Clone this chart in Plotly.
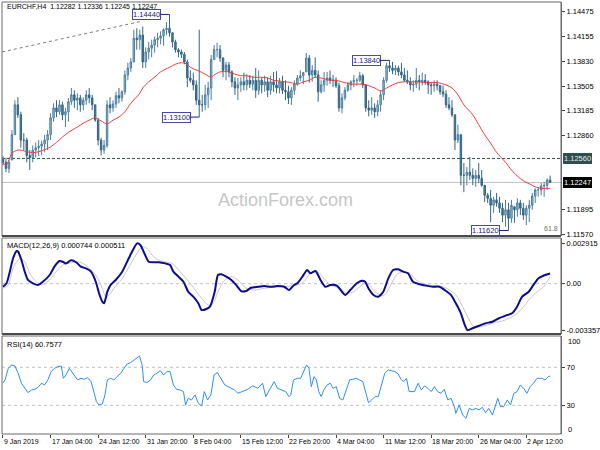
import plotly.graph_objects as go

# ---------------- data (8-hour bars, EURCHF) ----------------
highs = [1.1259, 1.1257, 1.1254, 1.1293, 1.1332, 1.1336, 1.1317, 1.1289, 1.1283, 1.1267,
         1.1273, 1.1277, 1.1280, 1.1279, 1.1287, 1.1293, 1.1315, 1.1328, 1.1332, 1.1332,
         1.1330, 1.1322, 1.1335, 1.1348, 1.1345, 1.1341, 1.1339, 1.1336, 1.1345, 1.1348,
         1.1339, 1.1326, 1.1309, 1.1283, 1.1280, 1.1332, 1.1336, 1.1332, 1.1343, 1.1348,
         1.1345, 1.1371, 1.1381, 1.1387, 1.1424, 1.1426, 1.1424, 1.1428, 1.1401, 1.1408,
         1.1411, 1.1415, 1.1420, 1.1422, 1.1426, 1.1434, 1.14440, 1.1420, 1.1411, 1.1400,
         1.1398, 1.1395, 1.1385, 1.1371, 1.1368, 1.1358, 1.1424, 1.1339, 1.1352, 1.1356,
         1.1391, 1.1404, 1.1407, 1.1404, 1.1388, 1.1382, 1.1382, 1.1371, 1.1362, 1.1361,
         1.1362, 1.1368, 1.1366, 1.1365, 1.1364, 1.1374, 1.1371, 1.1362, 1.1364, 1.1362,
         1.1364, 1.1369, 1.1370, 1.1361, 1.1364, 1.1358, 1.1351, 1.1349, 1.1358, 1.1365,
         1.1371, 1.1369, 1.1394, 1.1391, 1.1378, 1.1388, 1.1371, 1.1358, 1.1369, 1.1369,
         1.1371, 1.1365, 1.1362, 1.1355, 1.1341, 1.1349, 1.1356, 1.1358, 1.1365, 1.1361,
         1.1369, 1.1366, 1.1352, 1.1332, 1.1336, 1.1328, 1.1332, 1.1345, 1.1362, 1.1381,
         1.13840, 1.1382, 1.1378, 1.1377, 1.1381, 1.1374, 1.1371, 1.1362, 1.1358, 1.1374,
         1.1365, 1.1368, 1.1366, 1.1358, 1.1356, 1.1358, 1.1358, 1.1352, 1.1351, 1.1345,
         1.1336, 1.1332, 1.1313, 1.1300, 1.1287, 1.1250, 1.1245, 1.1258, 1.1243, 1.1241,
         1.1250, 1.1241, 1.1221, 1.1211, 1.1215, 1.1206, 1.1211, 1.1206, 1.1198, 1.1202,
         1.1198, 1.1202, 1.1193, 1.1204, 1.1202, 1.1198, 1.1195, 1.1202, 1.1211, 1.1217,
         1.1219, 1.1224, 1.1225, 1.1230, 1.12336]
lows = [1.1247, 1.1238, 1.1237, 1.1254, 1.1287, 1.1309, 1.1270, 1.1267, 1.1251, 1.1241,
        1.1251, 1.1257, 1.1259, 1.1260, 1.1264, 1.1267, 1.1280, 1.1304, 1.1310, 1.1313,
        1.1306, 1.1297, 1.1304, 1.1326, 1.1322, 1.1319, 1.1317, 1.1319, 1.1326, 1.1328,
        1.1319, 1.1304, 1.1273, 1.1260, 1.1262, 1.1270, 1.1315, 1.1317, 1.1322, 1.1328,
        1.1330, 1.1339, 1.1358, 1.1369, 1.1382, 1.1398, 1.1398, 1.1374, 1.1374, 1.1385,
        1.1388, 1.1394, 1.1401, 1.1405, 1.1403, 1.1417, 1.1415, 1.1401, 1.1394, 1.1388,
        1.1387, 1.1379, 1.1349, 1.1355, 1.1345, 1.1326, 1.13100, 1.1317, 1.1319, 1.1322,
        1.1332, 1.1385, 1.1388, 1.1382, 1.1362, 1.1358, 1.1362, 1.1349, 1.1339, 1.1332,
        1.1343, 1.1345, 1.1345, 1.1348, 1.1345, 1.1335, 1.1339, 1.1341, 1.1343, 1.1336,
        1.1339, 1.1343, 1.1341, 1.1341, 1.1340, 1.1332, 1.1327, 1.1326, 1.1339, 1.1351,
        1.1357, 1.1353, 1.1369, 1.1355, 1.1356, 1.1361, 1.1330, 1.1341, 1.1343, 1.1351,
        1.1353, 1.1349, 1.1348, 1.1317, 1.1315, 1.1332, 1.1343, 1.1345, 1.1349, 1.1351,
        1.1356, 1.1348, 1.1317, 1.1311, 1.1313, 1.1309, 1.1311, 1.1317, 1.1332, 1.1355,
        1.1369, 1.1366, 1.1365, 1.1364, 1.1361, 1.1356, 1.1353, 1.1345, 1.1343, 1.1348,
        1.1345, 1.1351, 1.1352, 1.1340, 1.1339, 1.1343, 1.1345, 1.1339, 1.1336, 1.1322,
        1.1319, 1.1310, 1.1267, 1.1276, 1.1221, 1.1212, 1.1221, 1.1228, 1.1221, 1.1219,
        1.1224, 1.1219, 1.1199, 1.1198, 1.1173, 1.1185, 1.1193, 1.1185, 1.1173, 1.1167,
        1.11620, 1.1172, 1.1172, 1.1180, 1.1182, 1.1176, 1.1169, 1.1173, 1.1189, 1.1198,
        1.1206, 1.1208, 1.1206, 1.1215, 1.12245]
closes = [1.1251, 1.1243, 1.1251, 1.1287, 1.1326, 1.1313, 1.1280, 1.1280, 1.1260, 1.1257,
          1.1267, 1.1270, 1.1272, 1.1275, 1.1280, 1.1287, 1.1309, 1.1322, 1.1317, 1.1326,
          1.1313, 1.1317, 1.1330, 1.1339, 1.1332, 1.1335, 1.1326, 1.1332, 1.1339, 1.1335,
          1.1326, 1.1306, 1.1280, 1.1267, 1.1273, 1.1326, 1.1322, 1.1327, 1.1338, 1.1335,
          1.1343, 1.1365, 1.1374, 1.1382, 1.1413, 1.1411, 1.1417, 1.1382, 1.1395, 1.1400,
          1.1404, 1.1411, 1.1413, 1.1416, 1.1424, 1.1426, 1.1420, 1.1408, 1.1398, 1.1395,
          1.1392, 1.1382, 1.1361, 1.1358, 1.1352, 1.1332, 1.1326, 1.1326, 1.1339, 1.1348,
          1.1385, 1.1398, 1.1398, 1.1387, 1.1371, 1.1378, 1.1369, 1.1356, 1.1348, 1.1352,
          1.1356, 1.1352, 1.1358, 1.1353, 1.1358, 1.1345, 1.1358, 1.1352, 1.1356, 1.1345,
          1.1356, 1.1352, 1.1348, 1.1356, 1.1345, 1.1343, 1.1335, 1.1345, 1.1353, 1.1361,
          1.1364, 1.1368, 1.1387, 1.1365, 1.1371, 1.1365, 1.1343, 1.1352, 1.1358, 1.1361,
          1.1358, 1.1358, 1.1351, 1.1322, 1.1335, 1.1345, 1.1352, 1.1356, 1.1358, 1.1358,
          1.1364, 1.1352, 1.1322, 1.1319, 1.1322, 1.1317, 1.1326, 1.1339, 1.1358, 1.1377,
          1.1374, 1.1371, 1.1374, 1.1369, 1.1365, 1.1358, 1.1356, 1.1352, 1.1353, 1.1358,
          1.1356, 1.1358, 1.1356, 1.1352, 1.1351, 1.1353, 1.1351, 1.1343, 1.1340, 1.1326,
          1.1322, 1.1313, 1.1280, 1.1287, 1.1234, 1.1234, 1.1238, 1.1234, 1.1230, 1.1234,
          1.1230, 1.1221, 1.1208, 1.1204, 1.1195, 1.1202, 1.1198, 1.1191, 1.1182, 1.1189,
          1.1178, 1.1195, 1.1189, 1.1198, 1.1191, 1.1182, 1.1191, 1.1195, 1.1207, 1.1215,
          1.1215, 1.1220, 1.1221, 1.1228, 1.12247]
first_open = 1.1255

# 55-period moving average (bar index, price)
ma_t = [0, 1, 2, 3, 5, 7, 9, 11, 13, 16, 18, 20, 22, 25, 27, 29, 31, 33, 35, 37, 39, 41, 43, 46, 47,
        49, 51, 53, 56, 58, 60, 62, 63, 66, 68, 70, 71, 73, 76, 78, 80, 82, 84, 87, 89, 91, 93, 95,
        97, 99, 101, 103, 105, 108, 110, 112, 114, 117, 119, 121, 123, 125, 127, 129, 131, 133, 135,
        138, 140, 142, 144, 146, 149, 151, 153, 155, 158, 160, 162, 164, 166, 169, 171, 173, 175,
        178, 179, 181, 183, 184]
ma_v = [1.1250, 1.1247, 1.1254, 1.1263, 1.1267, 1.1266, 1.1264, 1.1264, 1.1266, 1.1271, 1.1277,
        1.1284, 1.1290, 1.1297, 1.1302, 1.1306, 1.1309, 1.1305, 1.1301, 1.1306, 1.1310, 1.1317,
        1.1328, 1.1341, 1.1348, 1.1356, 1.1362, 1.1369, 1.1375, 1.1379, 1.1381, 1.1379, 1.1375,
        1.1370, 1.1366, 1.1362, 1.1365, 1.1369, 1.1369, 1.1366, 1.1364, 1.1364, 1.1362, 1.1362,
        1.1361, 1.1358, 1.1357, 1.1356, 1.1355, 1.1353, 1.1356, 1.1358, 1.1362, 1.1360, 1.1358,
        1.1358, 1.1356, 1.1353, 1.1353, 1.1353, 1.1351, 1.1348, 1.1344, 1.1348, 1.1352, 1.1355,
        1.1356, 1.1356, 1.1356, 1.1355, 1.1355, 1.1355, 1.1352, 1.1348, 1.1339, 1.1326, 1.1313,
        1.1300, 1.1287, 1.1276, 1.1264, 1.1251, 1.1241, 1.1233, 1.1227, 1.1221, 1.1219, 1.1217,
        1.1217, 1.1217]

trend_t = [-0.3, 46.5]
trend_v = [1.1395, 1.1435]

swing_t = [56, 66, 130, 170]
swing_v = [1.14440, 1.13100, 1.13840, 1.11620]

level_dash = 1.12560
last_price = 1.12247

macd_t = [0, 1.2, 2.3, 3.4, 4.6, 5.1, 6.2, 7.3, 8.4, 10.1, 11.8, 13.4, 15.7, 17.3, 19, 20.1, 21.2,
          22.9, 24.6, 26.2, 27.9, 29.6, 31.2, 32.3, 33.4, 34, 35.1, 36.2, 37.9, 40.1, 42.3, 44,
          45.1, 46.2, 47.3, 49, 50.7, 52.3, 54.6, 56.2, 57.3, 59, 60.7, 62.3, 64, 65.7, 66.8, 68.4,
          69.6, 71.2, 72.3, 73.4, 75.1, 76.8, 78.4, 80.1, 81.8, 83.4, 85.7, 87.9, 90.1, 92.3, 94.6,
          96.2, 97.9, 99, 100.7, 102.3, 103.4, 105.1, 106.8, 108.4, 110.1, 112.3, 114, 115.1,
          116.8, 119, 120.7, 121.8, 122.9, 124.6, 126.2, 127.9, 129.6, 131.2, 132.9, 134.6, 136.2,
          137.9, 140.1, 142.3, 144.6, 146.8, 149, 150.7, 152.3, 154, 155.1, 156.2, 157.9, 160.1,
          162.3, 164.6, 166.8, 169, 171.2, 172.9, 174.6, 176.8, 178.4, 180.1, 182.3, 184]
macd_v = [-0.00022, 0.00003, 0.00087, 0.00184, 0.00236, 0.00231, 0.00171, 0.00087, 0.00027, 0.00003,
          -0.00009, 0.00014, 0.00063, 0.00123, 0.00164, 0.00159, 0.00147, 0.00169, 0.00155, 0.00123,
          0.00111, 0.00087, 0.00014, -0.00069, -0.00130, -0.00142, -0.00058, -0.00009, 0.00027, 0.00087,
          0.00184, 0.00256, 0.002915, 0.00280, 0.00231, 0.00159, 0.00155, 0.00155, 0.00147, 0.00135,
          0.00087, 0.00051, 0.00014, -0.00058, -0.00094, -0.00142, -0.00190, -0.00183, -0.00166, -0.00058,
          0.00063, 0.00068, 0.00051, 0.00027, -0.00009, -0.00053, -0.00053, -0.00029, -0.00022, -0.00017,
          -0.00022, -0.00017, -0.00022, -0.00046, -0.00009, 0.00003, 0.00051, 0.00099, 0.00075, 0.00092,
          0.00027, -0.00022, -0.00009, -0.00014, -0.00058, -0.00082, -0.00046, 0.00003, 0.00022, 0.00014,
          -0.00033, -0.00082, -0.00094, -0.00058, 0.00039, 0.00099, 0.00104, 0.00087, 0.00075, 0.00014,
          -0.00004, -0.00014, -0.00022, -0.00022, -0.00053, -0.00082, -0.00142, -0.00214, -0.00286, -0.003357,
          -0.00322, -0.00304, -0.00286, -0.00275, -0.00250, -0.00231, -0.00214, -0.00166, -0.00094, -0.00058,
          -0.00009, 0.00039, 0.00063, 0.000744]
sig_t = [0, 1.8, 3.4, 5.7, 7.3, 9, 11.2, 13.4, 15.7, 17.9, 20.1, 22.3, 24.6, 26.8, 29, 31.2, 33.4,
         34.6, 35.7, 37.3, 40.1, 43.4, 46.8, 48.4, 50.1, 52.3, 54.6, 56.8, 60.1, 63.4, 66.8, 69, 70.7,
         72.3, 74.6, 76.8, 79, 81.8, 84.6, 87.9, 93.4, 99, 101.2, 103.4, 105.7, 107.9, 110.1, 113.4,
         115.7, 117.9, 120.7, 122.3, 124.6, 126.8, 128.4, 130.1, 132.3, 134.6, 136.8, 139, 141.2,
         143.4, 145.7, 147.9, 150.1, 152.3, 154.6, 156.8, 158.4, 160.7, 163.4, 165.7, 167.9, 170.1,
         172.3, 174.6, 176.8, 179, 181.8, 184]
sig_v = [-0.00033, -0.00010, 0.00111, 0.00183, 0.00159, 0.00075, 0.00014, -0.00005, 0.00027, 0.00087,
         0.00135, 0.00147, 0.00159, 0.00147, 0.00111, 0.00063, -0.00033, -0.00094, -0.00082, -0.00033,
         0.00039, 0.00159, 0.00268, 0.00256, 0.00207, 0.00171, 0.00159, 0.00147, 0.00075, -0.00010,
         -0.00106, -0.00154, -0.00142, -0.00058, 0.00027, 0.00051, 0.00027, -0.00033, -0.00046, -0.00033,
         -0.00022, -0.00010, 0.00014, 0.00075, 0.00087, 0.00039, -0.00010, -0.00033, -0.00070, -0.00058,
         -0.00010, 0.00003, -0.00046, -0.00082, -0.00082, -0.00022, 0.00063, 0.00087, 0.00075, 0.00027,
         0.00003, -0.00010, -0.00014, -0.00022, -0.00046, -0.00082, -0.00166, -0.00262, -0.00311, -0.00311,
         -0.00294, -0.00279, -0.00270, -0.00250, -0.00226, -0.00178, -0.00118, -0.00070, -0.00022, 0.000511]

rsi_t = [0, 0.7, 1.8, 2.9, 4, 5.1, 6.2, 7.3, 8.4, 9.6, 10.7, 11.8, 12.9, 14, 15.1, 16.2, 17.3, 18.4,
         19.6, 20.3, 21.2, 22.3, 23.4, 25.1, 26.2, 27.3, 28.4, 29.6, 30.7, 31.4, 32.3, 33.4, 34.3, 35.1,
         36.2, 37.3, 38.4, 39.6, 40.7, 41.8, 42.9, 44, 45.1, 45.9, 46.8, 47.3, 48.4, 49.6, 50.7, 51.8,
         52.9, 54, 55.1, 56.2, 57.3, 58.4, 59.6, 60.7, 61.4, 62.3, 63.4, 64.6, 65.7, 66.8, 67.7, 68.8,
         69.9, 71, 72.1, 73.2, 74.6, 76.2, 77.9, 79, 80.7, 82.3, 84, 85.7, 87.3, 88.4, 89.6, 91.2, 92.3,
         94, 95.1, 96.2, 96.8, 97.7, 99, 100.1, 101.2, 102.1, 102.9, 103.7, 104.6, 105.4, 106.2, 107,
         107.9, 109, 110.1, 111, 112.1, 113.2, 114.3, 115.4, 116.6, 117.7, 118.8, 119.9, 121, 121.8,
         122.9, 124, 125.1, 126.2, 127.3, 128.4, 129.6, 130.7, 131.8, 132.9, 134, 134.8, 135.7, 136.6,
         137.3, 138.4, 139.6, 140.7, 141.8, 142.9, 144, 145.1, 146.2, 147.3, 148.4, 149.6, 150.7, 151.8,
         152.3, 153.4, 154.6, 155.7, 156.8, 157.9, 159, 160.1, 161.2, 162.3, 163.4, 164.6, 165.7, 166.4,
         167.3, 168.4, 169.6, 170.7, 171.8, 172.9, 174, 175.1, 176.2, 177.3, 178.4, 179.6, 181.2, 182.3,
         183.4, 184]
rsi_v = [53.2, 56.7, 69, 72.5, 71.4, 63.7, 53.2, 47.9, 43.3, 46.1, 46.8, 48.9, 53.2, 51.4, 56.7, 65.4,
         68.9, 70.7, 71.4, 58.4, 61.9, 68.9, 63.7, 56.7, 58.4, 57.4, 59.1, 54.9, 42.6, 33.9, 30.4, 31.4,
         40.9, 56.7, 58.4, 56.7, 60.2, 63.7, 68.9, 73.5, 74.9, 77.7, 79.5, 81.9, 72.5, 54.9, 53.9, 56.7,
         61.9, 63.7, 66.5, 61.9, 65.4, 65.4, 51.4, 46.8, 46.1, 44.4, 30.4, 37.4, 35.6, 40.9, 32.1, 29.3,
         44.4, 35.6, 40.9, 61.9, 64.4, 58.4, 51.4, 48.9, 46.1, 42.6, 44.4, 46.8, 50.4, 47.9, 53.2, 39.1,
         46.1, 54.9, 47.9, 46.1, 44.4, 39.1, 40.9, 56.7, 58.4, 58.4, 67.2, 72.5, 68.9, 49.6, 60.2, 56.7,
         44.4, 39.1, 46.1, 51.4, 53.2, 47.9, 49.6, 37.4, 35.6, 46.1, 56.7, 57.4, 58.4, 56.7, 54.9, 46.1,
         32.8, 35.6, 39.1, 39.1, 51.4, 63.7, 67.2, 66.5, 65.4, 63.0, 56.7, 54.9, 58.4, 44.4, 44.4, 44.4,
         53.2, 46.1, 50.4, 47.9, 44.4, 49.6, 44.4, 42.6, 46.8, 35.6, 37.4, 28.6, 21.5, 30.4, 19.8, 16.3,
         26.8, 25.1, 26.8, 25.1, 27.9, 22.2, 26.8, 19.8, 30.4, 37.4, 28.6, 28.6, 35.6, 30.4, 42.6, 44.4,
         51.4, 47.9, 42.6, 49.6, 53.2, 58.4, 58.4, 56.7, 60.2, 60.7577]

date_idx = [0, 16, 32, 48, 64, 80, 96, 112, 128, 144, 160, 176]
date_labels = ["9 Jan 2019", "17 Jan 04:00", "24 Jan 12:00", "31 Jan 20:00", "8 Feb 04:00",
               "15 Feb 12:00", "22 Feb 20:00", "4 Mar 04:00", "11 Mar 12:00", "18 Mar 20:00",
               "26 Mar 04:00", "2 Apr 12:00"]
price_ticks = [1.14475, 1.14155, 1.13830, 1.13505, 1.13185, 1.12860, 1.11895, 1.11570]
macd_ticks = [0.002915, 0.0, -0.003357]
macd_ticktext = ["0.002915", "0.00", "-0.003357"]
rsi_ticks = [70, 30]

# ---------------- figure ----------------
FONT = "Liberation Sans, Arial, sans-serif"
bars = list(range(len(closes)))
opens = []
prev = first_open
for h, l, c in zip(highs, lows, closes):
    opens.append(min(max(prev, l), h))
    prev = c

fig = go.Figure()
fig.add_trace(go.Scatter(x=trend_t, y=trend_v, mode="lines", xaxis="x", yaxis="y",
                         line=dict(color="#7a7a7a", width=1, dash="dot"), hoverinfo="skip"))
fig.add_trace(go.Candlestick(x=bars, open=opens, high=highs, low=lows, close=closes,
                             xaxis="x", yaxis="y", whiskerwidth=0,
                             increasing=dict(line=dict(color="#4a7e9e", width=1), fillcolor="#a7c4d6"),
                             decreasing=dict(line=dict(color="#336584", width=1), fillcolor="#4a7b99"),
                             hoverinfo="skip"))
fig.add_trace(go.Scatter(x=ma_t, y=ma_v, mode="lines", xaxis="x", yaxis="y",
                         line=dict(color="#f03c3c", width=1, shape="spline", smoothing=0.8),
                         hoverinfo="skip"))
fig.add_trace(go.Scatter(x=sig_t, y=sig_v, mode="lines", xaxis="x", yaxis="y2",
                         line=dict(color="#c8c8c8", width=1, shape="spline", smoothing=0.8),
                         hoverinfo="skip"))
fig.add_trace(go.Scatter(x=macd_t, y=macd_v, mode="lines", xaxis="x", yaxis="y2",
                         line=dict(color="#0c0c8c", width=2, shape="spline", smoothing=0.6),
                         hoverinfo="skip"))
fig.add_trace(go.Scatter(x=rsi_t, y=rsi_v, mode="lines", xaxis="x", yaxis="y3",
                         line=dict(color="#2f8ff0", width=1), hoverinfo="skip"))

shapes = [
    dict(type="line", xref="paper", x0=0, x1=1, yref="y", y0=level_dash, y1=level_dash,
         line=dict(color="#2f4f4f", width=1, dash="3px,2px"), layer="below"),
    dict(type="line", xref="paper", x0=0, x1=1, yref="y", y0=last_price, y1=last_price,
         line=dict(color="#c0c0c0", width=1), layer="below"),
    dict(type="line", xref="paper", x0=0, x1=1, yref="y2", y0=0, y1=0,
         line=dict(color="#c0c0c0", width=1, dash="dot"), layer="below"),
]
for lv in rsi_ticks:
    shapes.append(dict(type="line", xref="paper", x0=0, x1=1, yref="y3", y0=lv, y1=lv,
                       line=dict(color="#c0c0c0", width=1, dash="dot"), layer="below"))
for ax in ["y", "y2", "y3"]:
    shapes.append(dict(type="rect", xref="paper", x0=0, x1=1, yref=f"{ax} domain", y0=0, y1=1,
                       line=dict(color="#6a6a6a", width=1), layer="above"))
for ax in ["y", "y2"]:
    shapes.append(dict(type="line", xref="paper", x0=0, x1=1, yref=f"{ax} domain", y0=0, y1=0,
                       line=dict(color="#4a4a4a", width=2), layer="above"))

ann = []
small = dict(family=FONT, size=7.5, color="#000000")
ann.append(dict(text="EURCHF,H4  1.12282 1.12336 1.12245 1.12247", xref="paper", yref="y domain",
                x=0, y=1, xanchor="left", yanchor="top", xshift=3, yshift=1, showarrow=False,
                font=dict(family=FONT, size=7, color="#000000")))
ann.append(dict(text="MACD(12,26,9) 0.000744 0.000511", xref="paper", yref="y2 domain",
                x=0, y=1, xanchor="left", yanchor="top", xshift=3, yshift=-1, showarrow=False, font=small))
ann.append(dict(text="RSI(14) 60.7577", xref="paper", yref="y3 domain",
                x=0, y=1, xanchor="left", yanchor="top", xshift=3, yshift=-2, showarrow=False, font=small))
ann.append(dict(text="ActionForex.com", xref="paper", yref="y domain", x=0.508, y=0.103,
                showarrow=False, font=dict(family=FONT, size=18, color="#c6c6c6")))
ann.append(dict(text="61.8", xref="paper", yref="y", x=1, y=1.1164, xanchor="right", xshift=-1,
                showarrow=False, font=dict(family=FONT, size=7, color="#6e6e6e")))
for t, v in zip(swing_t, swing_v):
    ann.append(dict(text=f"{v:.5f}", x=t, y=v, xref="x", yref="y", showarrow=True,
                    arrowhead=0, arrowwidth=1, arrowcolor="#1e1e8c", ax=-23, ay=0,
                    bgcolor="#ffffff", bordercolor="#4646b4", borderwidth=1, borderpad=0,
                    font=dict(family=FONT, size=7.5, color="#1a1a7a")))
ann.append(dict(text=f"{level_dash:.5f}", xref="paper", yref="y", x=1, y=level_dash, xanchor="left",
                xshift=2, showarrow=False, bgcolor="#2f4f4f", bordercolor="#2f4f4f", borderpad=0,
                font=dict(family=FONT, size=7.5, color="#e8e8e8")))
ann.append(dict(text=f"{last_price:.5f}", xref="paper", yref="y", x=1, y=last_price, xanchor="left",
                xshift=2, showarrow=False, bgcolor="#000000", bordercolor="#000000", borderpad=0,
                font=dict(family=FONT, size=7.5, color="#ffffff")))
ann.append(dict(text="100", xref="paper", yref="y3", x=1, y=100, xanchor="left", xshift=5, yshift=-3,
                showarrow=False, font=small))
ann.append(dict(text="0", xref="paper", yref="y3", x=1, y=0, xanchor="left", xshift=5, yshift=4,
                showarrow=False, font=small))
for i, lab in zip(date_idx, date_labels):
    ann.append(dict(text=lab, x=i, xref="x", y=0, yref="paper", xanchor="left", yanchor="top",
                    xshift=-1, yshift=-2, showarrow=False, font=dict(family=FONT, size=7, color="#000000")))

yax_common = dict(side="right", showgrid=False, zeroline=False, ticks="outside", ticklen=3,
                  tickcolor="#404040", tickfont=dict(family=FONT, size=7.5, color="#000000"),
                  showline=True, linecolor="#6a6a6a", linewidth=1, fixedrange=True)

fig.update_layout(
    width=600, height=450, margin=dict(l=2, r=34, t=0, b=16),
    paper_bgcolor="#ffffff", plot_bgcolor="#ffffff", showlegend=False,
    xaxis=dict(range=[-0.333, 187.667], anchor="y3", showgrid=False, zeroline=False,
               rangeslider=dict(visible=False), showticklabels=False, tickvals=date_idx,
               ticks="outside", ticklen=3, tickcolor="#404040", showline=False, fixedrange=True),
    yaxis=dict(domain=[0.4562, 0.9954], range=[1.11548, 1.14602], tickvals=price_ticks,
               ticktext=[f"{v:.5f}" for v in price_ticks], anchor="x", **yax_common),
    yaxis2=dict(domain=[0.2304, 0.4516], range=[-0.003637, 0.003304], tickvals=macd_ticks,
                ticktext=macd_ticktext, anchor="x", **yax_common),
    yaxis3=dict(domain=[0, 0.2258], range=[-0.2, 102.9], tickvals=rsi_ticks,
                ticktext=[str(v) for v in rsi_ticks], anchor="x", **yax_common),
    shapes=shapes, annotations=ann,
)

fig.write_html("out.html", config={"displayModeBar": False},
               post_script="document.body.style.margin='0';document.body.style.padding='0';")
